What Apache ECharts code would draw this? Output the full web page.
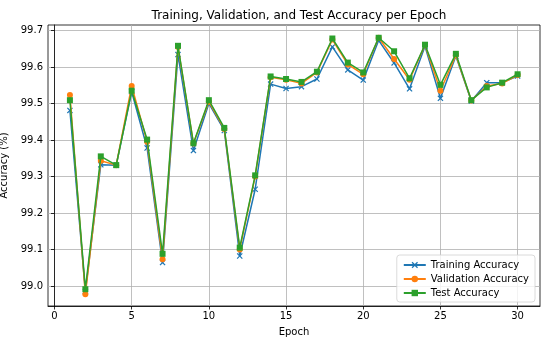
<!DOCTYPE html>
<html><head><meta charset="utf-8">
<script src="https://cdn.jsdelivr.net/npm/echarts@6/dist/echarts.min.js"></script>
<style>html,body{margin:0;padding:0;background:#fff}#c{width:550px;height:342px}</style>
</head><body><div id="c"></div>
<script>
const epochs = [1,2,3,4,5,6,7,8,9,10,11,12,13,14,15,16,17,18,19,20,21,22,23,24,25,26,27,28,29,30];
const trainAcc = [99.481,98.985,99.332,99.331,99.532,99.378,99.064,99.634,99.371,99.500,99.426,99.082,99.265,99.553,99.541,99.546,99.567,99.655,99.592,99.564,99.673,99.611,99.540,99.657,99.514,99.630,99.507,99.557,99.557,99.575];
const valAcc = [99.523,98.977,99.343,99.331,99.548,99.395,99.073,99.655,99.390,99.505,99.430,99.100,99.300,99.572,99.565,99.555,99.585,99.675,99.607,99.580,99.680,99.622,99.565,99.660,99.535,99.632,99.508,99.548,99.555,99.578];
const testAcc = [99.509,98.991,99.355,99.331,99.535,99.401,99.088,99.658,99.391,99.509,99.433,99.105,99.303,99.574,99.567,99.559,99.587,99.678,99.612,99.585,99.680,99.643,99.569,99.661,99.551,99.636,99.509,99.544,99.557,99.580];
const xTicks = [0,5,10,15,20,25,30];
const yTicks = [99.0,99.1,99.2,99.3,99.4,99.5,99.6,99.7];

const font = 'DejaVu Sans';
const xPath = 'path://M0,1.4L1.4,0L5,3.6L8.6,0L10,1.4L6.4,5L10,8.6L8.6,10L5,6.4L1.4,10L0,8.6L3.6,5Z';
const pairs = a => epochs.map((e,i)=>[e,a[i]]);
const chart = echarts.init(document.getElementById('c'), null, {renderer:'canvas'});
chart.setOption({
  animation:false,
  backgroundColor:'#fff',
  textStyle:{fontFamily:font},
  title:{text:'Training, Validation, and Test Accuracy per Epoch',left:294,top:5,textAlign:'center',
    textStyle:{fontFamily:font,fontSize:12,fontWeight:'normal',color:'#000'}},
  grid:{left:48,right:10,top:25,bottom:36,containLabel:false,outerBoundsMode:'none',show:true,borderColor:'#000',borderWidth:0.8,backgroundColor:'transparent'},
  legend:{orient:'vertical',right:15,bottom:40,itemWidth:22,itemHeight:8,itemGap:4,
    backgroundColor:'rgba(255,255,255,0.8)',borderColor:'#d0d0d0',borderWidth:0.8,borderRadius:3,padding:[5,6,4,6],
    textStyle:{fontFamily:font,fontSize:10,color:'#000'},
    data:['Training Accuracy','Validation Accuracy','Test Accuracy']},
  xAxis:{type:'value',min:-0.42,max:31.45,name:'Epoch',nameLocation:'middle',nameGap:21,
    nameTextStyle:{fontFamily:font,fontSize:10,color:'#000'},
    axisLine:{show:true,lineStyle:{color:'#000',width:0.8}},
    axisTick:{show:true,length:3.5,customValues:xTicks,lineStyle:{color:'#000',width:0.8}},
    axisLabel:{customValues:xTicks,fontFamily:font,fontSize:10,color:'#000',margin:5},
    splitLine:{show:true,lineStyle:{color:'#b0b0b0',width:0.8}}},
  yAxis:{type:'value',min:98.945,max:99.715,name:'Accuracy (%)',nameLocation:'middle',nameGap:34,
    nameTextStyle:{fontFamily:font,fontSize:10,color:'#000'},
    axisLine:{show:true,lineStyle:{color:'#000',width:0.8}},
    axisTick:{show:true,length:3.5,customValues:yTicks,lineStyle:{color:'#000',width:0.8}},
    axisLabel:{customValues:yTicks,fontFamily:font,fontSize:10,color:'#000',margin:5,formatter:v=>v.toFixed(1)},
    splitLine:{show:true,lineStyle:{color:'#b0b0b0',width:0.8}}},
  series:[
    {name:'Training Accuracy',type:'line',data:pairs(trainAcc),symbol:xPath,symbolSize:6,showAllSymbol:true,
      lineStyle:{color:'#1f77b4',width:1.5},itemStyle:{color:'#1f77b4'},z:2},
    {name:'Validation Accuracy',type:'line',data:pairs(valAcc),symbol:'circle',symbolSize:6,showAllSymbol:true,
      lineStyle:{color:'#ff7f0e',width:1.5},itemStyle:{color:'#ff7f0e',borderWidth:0},z:3},
    {name:'Test Accuracy',type:'line',data:pairs(testAcc),symbol:'rect',symbolSize:6,showAllSymbol:true,
      lineStyle:{color:'#2ca02c',width:1.5},itemStyle:{color:'#2ca02c',borderWidth:0},z:4}
  ]
});
</script></body></html>
